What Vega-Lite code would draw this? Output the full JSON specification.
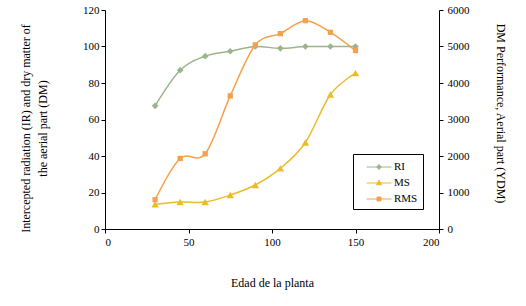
{
  "$schema": "https://vega.github.io/schema/vega-lite/v6.json",
  "autosize": "none",
  "width": 334,
  "height": 219,
  "padding": {"left": 105, "top": 10, "right": 87, "bottom": 77},
  "background": "white",
  "config": {
    "view": {"stroke": null},
    "font": "Liberation Serif",
    "axis": {
      "grid": false,
      "domainColor": "black",
      "tickColor": "black",
      "labelColor": "black",
      "titleColor": "black",
      "labelFont": "Liberation Serif",
      "titleFont": "Liberation Serif",
      "labelFontSize": 11,
      "titleFontSize": 12,
      "titleFontWeight": "normal",
      "tickSize": 4,
      "domainWidth": 1,
      "tickWidth": 1
    },
    "legend": {
      "labelFont": "Liberation Serif",
      "labelFontSize": 11,
      "labelColor": "black"
    }
  },
  "data": {
    "values": [
      {"age": 30, "series": "RI", "value": 67.5},
      {"age": 45, "series": "RI", "value": 87},
      {"age": 60, "series": "RI", "value": 94.7},
      {"age": 75, "series": "RI", "value": 97.4},
      {"age": 90, "series": "RI", "value": 100},
      {"age": 105, "series": "RI", "value": 99},
      {"age": 120, "series": "RI", "value": 100},
      {"age": 135, "series": "RI", "value": 100},
      {"age": 150, "series": "RI", "value": 100},
      {"age": 30, "series": "MS", "value": 13.5},
      {"age": 45, "series": "MS", "value": 14.8},
      {"age": 60, "series": "MS", "value": 14.8},
      {"age": 75, "series": "MS", "value": 18.6},
      {"age": 90, "series": "MS", "value": 24.1},
      {"age": 105, "series": "MS", "value": 33.2},
      {"age": 120, "series": "MS", "value": 47.4},
      {"age": 135, "series": "MS", "value": 73.7},
      {"age": 150, "series": "MS", "value": 85.4},
      {"age": 30, "series": "RMS", "value": 802},
      {"age": 45, "series": "RMS", "value": 1933},
      {"age": 60, "series": "RMS", "value": 2061},
      {"age": 75, "series": "RMS", "value": 3647},
      {"age": 90, "series": "RMS", "value": 5043},
      {"age": 105, "series": "RMS", "value": 5353},
      {"age": 120, "series": "RMS", "value": 5708},
      {"age": 135, "series": "RMS", "value": 5389},
      {"age": 150, "series": "RMS", "value": 4888}
    ]
  },
  "encoding": {
    "x": {
      "field": "age",
      "type": "quantitative",
      "scale": {"domain": [0, 200]},
      "axis": {"values": [0, 50, 100, 150, 200], "title": "Edad de la planta", "titlePadding": 30, "labelPadding": 3}
    },
    "color": {
      "field": "series",
      "type": "nominal",
      "scale": {"domain": ["RI", "MS", "RMS"], "range": ["#9BB58A", "#EBBB2A", "#F5A04A"]},
      "legend": {
        "title": null,
        "orient": "none",
        "legendX": 248,
        "legendY": 144,
        "strokeColor": "black",
        "padding": 5,
        "rowPadding": 3,
        "symbolOpacity": 1,
        "symbolSize": 225,
        "symbolStrokeWidth": 1,
        "symbolType": "M0.07,0H3.4M1.45,-0.28H2.01V0.28H1.45Z",
        "labelOffset": 20,
        "encode": {
          "symbols": {
            "update": {
              "fill": {"scale": "color", "field": "value"},
              "shape": {"signal": "datum.value === 'RI' ? 'M0.07,0H3.4M1.73,-0.33L2.03,0L1.73,0.33L1.43,0Z' : datum.value === 'MS' ? 'M0.07,0H3.4M1.73,-0.38L2.06,0.24L1.4,0.24Z' : 'M0.07,0H3.4M1.47,-0.26H1.99V0.26H1.47Z'"}
            }
          }
        }
      }
    }
  },
  "layer": [
    {
      "transform": [{"filter": "datum.series !== 'RMS'"}],
      "encoding": {
        "y": {
          "field": "value",
          "type": "quantitative",
          "scale": {"domain": [0, 120]},
          "axis": {
            "orient": "left",
            "values": [0, 20, 40, 60, 80, 100, 120],
            "title": ["Intercepted radiation (IR)  and dry matter of", "the aerial part (DM)"],
            "titleLineHeight": 17,
            "titlePadding": 33,
            "titleY": 118
          }
        }
      },
      "layer": [
        {"mark": {"type": "line", "interpolate": "cardinal", "strokeWidth": 1.5}},
        {"transform": [{"filter": "datum.series === 'RI'"}],
         "mark": {"type": "point", "filled": true, "opacity": 1, "size": 45, "shape": "diamond"}},
        {"transform": [{"filter": "datum.series === 'MS'"}],
         "mark": {"type": "point", "filled": true, "opacity": 1, "size": 55, "shape": "triangle-up"}}
      ]
    },
    {
      "transform": [{"filter": "datum.series === 'RMS'"}],
      "encoding": {
        "y": {
          "field": "value",
          "type": "quantitative",
          "scale": {"domain": [0, 6000]},
          "axis": {
            "orient": "right",
            "format": "d",
            "values": [0, 1000, 2000, 3000, 4000, 5000, 6000],
            "title": "DM Performance,  Aerial part (YDM)",
            "titlePadding": 24,
            "labelPadding": 4,
            "titleY": 103
          }
        }
      },
      "layer": [
        {"mark": {"type": "line", "interpolate": "cardinal", "strokeWidth": 1.5}},
        {"mark": {"type": "point", "filled": true, "opacity": 1, "size": 28, "shape": "square"}}
      ]
    }
  ],
  "resolve": {"scale": {"y": "independent"}}
}
